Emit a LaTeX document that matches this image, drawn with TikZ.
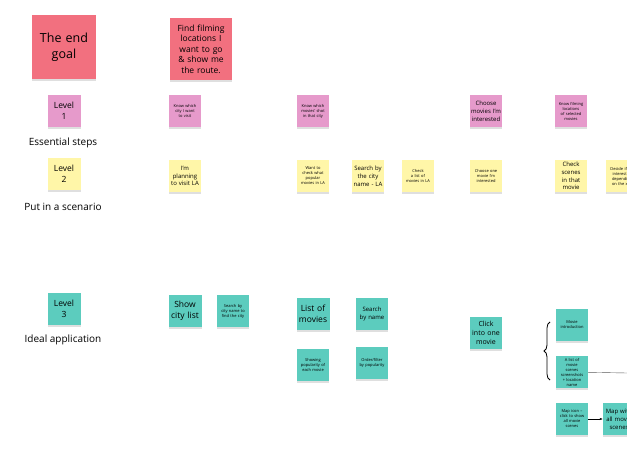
\documentclass[tikz,border=0pt]{standalone}
\usepackage{fontspec}
\setmainfont{Open Sans}
\usetikzlibrary{shadows,decorations.pathreplacing,arrows.meta}
\definecolor{goalred}{HTML}{F2707F}
\definecolor{stepspink}{HTML}{E69ACB}
\definecolor{scenyellow}{HTML}{FFF6A8}
\definecolor{appteal}{HTML}{5CCCBE}
\tikzset{
  note/.style={minimum size=32pt, inner sep=1pt, align=center,
    execute at begin node={\hyphenpenalty=10000},
    drop shadow={shadow xshift=0pt, shadow yshift=-2pt, opacity=0.25}},
  tiny/.style={font=\fontsize{4}{5}\selectfont, text width=25pt},
  small/.style={font=\fontsize{6}{7.8}\selectfont, text width=30pt},
  big/.style={font=\fontsize{8.5}{10.5}\selectfont, text width=31pt},
  label/.style={font=\fontsize{10}{12}\selectfont}
}
\begin{document}
\begin{tikzpicture}[x=1pt, y=-1pt]
    \useasboundingbox (0,0) rectangle (627,457);

    % goal row
    \node[note, fill=goalred, minimum size=64pt, text width=56pt, font=\fontsize{12.5}{16}\selectfont] (goal) at (64, 47) {The end goal};
    \node[note, fill=goalred, minimum size=62pt, big, text width=56pt] (find) at (201, 49) {Find filming locations I want to go \& show me the route.};

    % level 1
    \node[note, fill=stepspink, big] (lvA) at (64, 111) {Level\\1};
    \node[label] (essential) at (63, 143) {Essential steps};
    \node[note, fill=stepspink, tiny] (knowcity) at (185, 111) {Know which city I want to visit};
    \node[note, fill=stepspink, tiny] (knowmovies) at (313, 111) {Know which movies' shot in that city};
    \node[note, fill=stepspink, small] (choosemovies) at (486, 111) {Choose movies I'm interested};
    \node[note, fill=stepspink, tiny] (knowloc) at (571, 111) {Know filming locations of selected movies};

    % level 2
    \node[note, fill=scenyellow, big] (lvB) at (64, 174) {Level\\2};
    \node[label] (scenario) at (63, 207) {Put in a scenario};
    \node[note, fill=scenyellow, small] (planning) at (185, 176) {I'm planning to visit LA};
    \node[note, fill=scenyellow, tiny] (wantcheck) at (313, 176) {Want to check what popular movies in LA};
    \node[note, fill=scenyellow, small] (searchcity) at (368, 176) {Search by the city name - LA};
    \node[note, fill=scenyellow, tiny] (checklist) at (418, 176) {Check a list of movies in LA};
    \node[note, fill=scenyellow, tiny] (chooseone) at (486, 176) {Choose one movie I'm interested};
    \node[note, fill=scenyellow, small] (checkscenes) at (571, 176) {Check scenes in that movie};
    \node[note, fill=scenyellow, tiny] (decide) at (622, 176) {Decide if I'm interested depending on the xxx};

    % level 3
    \node[note, fill=appteal, big] (lvC) at (64, 309) {Level\\3};
    \node[label] (ideal) at (63, 340) {Ideal application};
    \node[note, fill=appteal, big] (citylist) at (185, 311) {Show city list};
    \node[note, fill=appteal, tiny] (searchfind) at (233, 311) {Search by city name to find the city};
    \node[note, fill=appteal, big] (listmovies) at (313, 314) {List of movies};
    \node[note, fill=appteal, small] (searchname) at (372, 314) {Search by name};
    \node[note, fill=appteal, tiny] (popularity) at (313, 365) {Showing popularity of each movie};
    \node[note, fill=appteal, tiny] (orderfilter) at (372, 363) {Order/filter by popularity};
    \node[note, fill=appteal, small, font=\fontsize{7}{9}\selectfont] (clickone) at (486, 333) {Click into one movie};
    \node[note, fill=appteal, tiny] (intro) at (572, 325) {Movie introduction};
    \node[note, fill=appteal, tiny] (scenes) at (572, 372) {A list of movie scenes screenshots + location name};
    \node[note, fill=appteal, tiny] (mapicon) at (572, 419) {Map icon -- click to show all movie scenes};
    \node[note, fill=appteal, small] (mapall) at (619, 419) {Map with all movie scenes};

    % connectors
    \coordinate (braceA) at (550, 322);
    \coordinate (braceB) at (550, 380);
    \coordinate (offright) at (627, 373);
    \draw[decorate, decoration={brace, amplitude=6pt}, thick] (braceB) -- (braceA);
    \draw[gray!70!black, thin] (scenes) -- (offright);
    \draw[-{Latex[length=3pt]}, thin] (mapicon) -- (mapall);
\end{tikzpicture}
\end{document}
